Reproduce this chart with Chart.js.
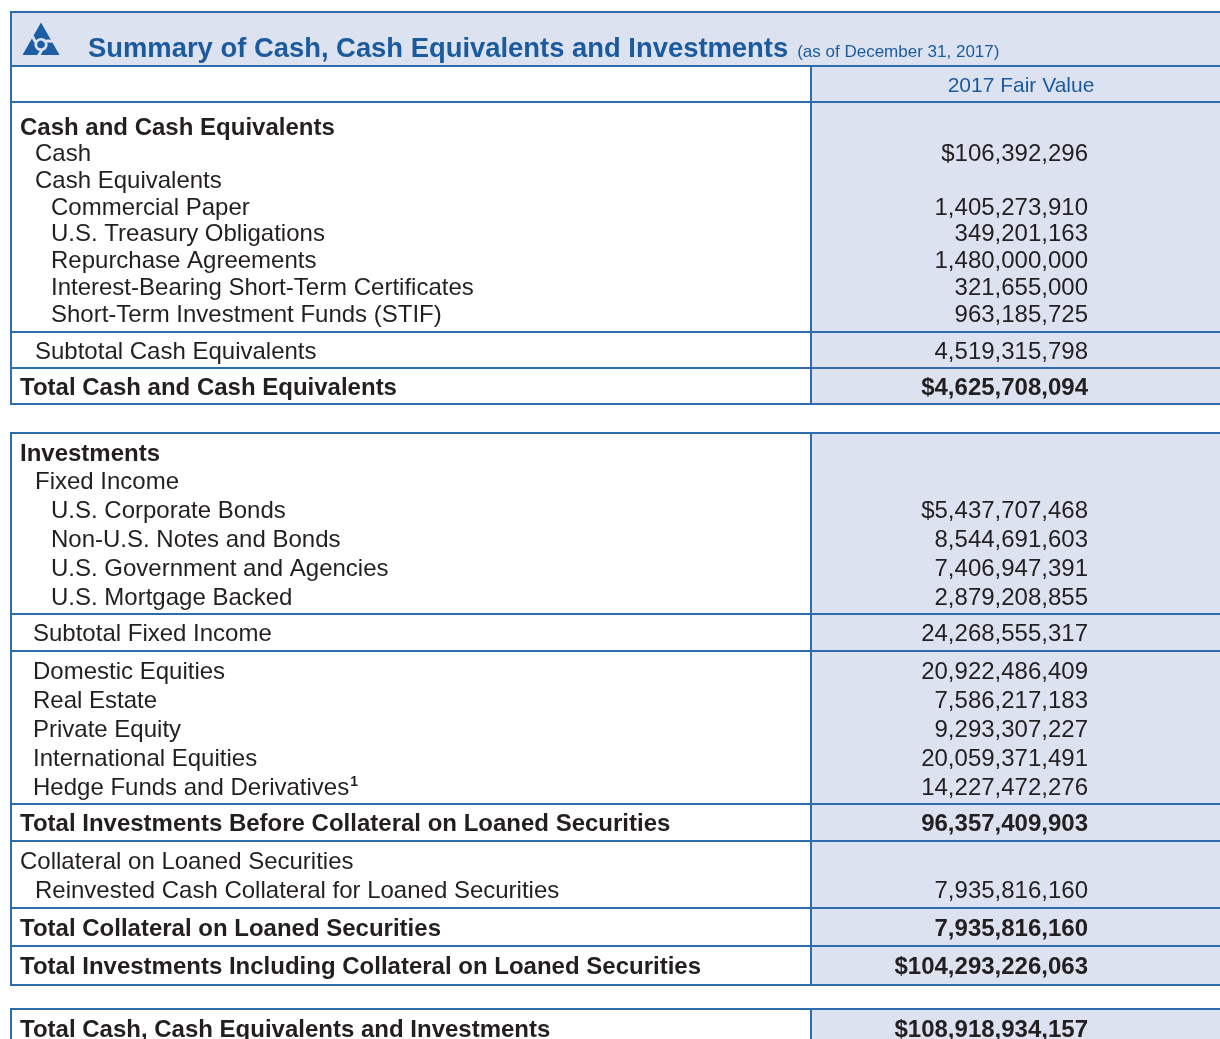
<!DOCTYPE html>
<html>
<head>
<meta charset="utf-8">
<script src="https://cdn.jsdelivr.net/npm/chart.js@4/dist/chart.umd.min.js"></script>
<style>
  html, body { margin: 0; padding: 0; background: #fff; }
  canvas { display: block; }
</style>
</head>
<body>
<canvas id="summary" width="1220" height="1039"></canvas>
<script>
// --- data (fair value in USD) ---
const title = 'Summary of Cash, Cash Equivalents and Investments';
const subtitle = '(as of December 31, 2017)';
const columnLabel = '2017 Fair Value';

const headings = ['Cash and Cash Equivalents', 'Cash Equivalents', 'Investments', 'Fixed Income', 'Collateral on Loaned Securities'];

const cashLabels = ['Cash'];
const cashValues = [106392296];

const cashEqLabels = ['Commercial Paper', 'U.S. Treasury Obligations', 'Repurchase Agreements',
    'Interest-Bearing Short-Term Certificates', 'Short-Term Investment Funds (STIF)'];
const cashEqValues = [1405273910, 349201163, 1480000000, 321655000, 963185725];

const fixedIncomeLabels = ['U.S. Corporate Bonds', 'Non-U.S. Notes and Bonds', 'U.S. Government and Agencies', 'U.S. Mortgage Backed'];
const fixedIncomeValues = [5437707468, 8544691603, 7406947391, 2879208855];

const otherInvLabels = ['Domestic Equities', 'Real Estate', 'Private Equity', 'International Equities', 'Hedge Funds and Derivatives'];
const otherInvValues = [20922486409, 7586217183, 9293307227, 20059371491, 14227472276];
const otherInvNotes = ['', '', '', '', '1'];

const collateralLabels = ['Reinvested Cash Collateral for Loaned Securities'];
const collateralValues = [7935816160];

const totalLabels = ['Subtotal Cash Equivalents', 'Total Cash and Cash Equivalents', 'Subtotal Fixed Income',
    'Total Investments Before Collateral on Loaned Securities', 'Total Collateral on Loaned Securities',
    'Total Investments Including Collateral on Loaned Securities', 'Total Cash, Cash Equivalents and Investments'];
const totalValues = [4519315798, 4625708094, 24268555317, 96357409903, 7935816160, 104293226063, 108918934157];

// --- look ---
const FONT = "'Liberation Sans', Arial, Helvetica, sans-serif";
const LINE = '#2f6cad';
const BLUE = '#1b5b9d';
const FILL = '#dce2f0';
const INK = '#231f20';

const LEFT = 11, DIVIDER = 811, RIGHT = 1220, VALUE_X = 1088;
const INDENT = { 0: 20, 1: 35, 2: 51, s: 33 };
const TEXT_SIZE = 24;
const TEXT_NUDGE = 2;   // canvas 'middle' sits a bit high for this face

// rows grouped in bordered blocks
const boxes = [
    { top: 66, groups: [
        { height: 36, rows: [{ header: columnLabel }] },
        { height: 230, padTop: 24, pitch: 26.7, rows: [
            { label: headings[0], indent: 0, bold: true },
            { label: cashLabels[0], value: cashValues[0], indent: 1, dollar: true },
            { label: headings[1], indent: 1 },
            ...cashEqLabels.map((l, i) => ({ label: l, value: cashEqValues[i], indent: 2 }))
        ] },
        { height: 36, rows: [{ label: totalLabels[0], value: totalValues[0], indent: 1 }] },
        { height: 36, rows: [{ label: totalLabels[1], value: totalValues[1], indent: 0, bold: true, dollar: true }] }
    ] },
    { top: 433, groups: [
        { height: 181, padTop: 19, pitch: 28.8, rows: [
            { label: headings[2], indent: 0, bold: true },
            { label: headings[3], indent: 1 },
            ...fixedIncomeLabels.map((l, i) => ({ label: l, value: fixedIncomeValues[i], indent: 2, dollar: i === 0 }))
        ] },
        { height: 37, rows: [{ label: totalLabels[2], value: totalValues[2], indent: 's' }] },
        { height: 153, padTop: 19, pitch: 29, rows:
            otherInvLabels.map((l, i) => ({ label: l, value: otherInvValues[i], indent: 's', note: otherInvNotes[i] })) },
        { height: 37, rows: [{ label: totalLabels[3], value: totalValues[3], indent: 0, bold: true }] },
        { height: 67, padTop: 19, pitch: 29, rows: [
            { label: headings[4], indent: 0 },
            ...collateralLabels.map((l, i) => ({ label: l, value: collateralValues[i], indent: 1 }))
        ] },
        { height: 38, rows: [{ label: totalLabels[4], value: totalValues[4], indent: 0, bold: true }] },
        { height: 39, rows: [{ label: totalLabels[5], value: totalValues[5], indent: 0, bold: true, dollar: true }] }
    ] },
    { top: 1009, groups: [
        { height: 38, rows: [{ label: totalLabels[6], value: totalValues[6], indent: 0, bold: true, dollar: true }] }
    ] }
];

// work out row centres, keep the valued rows as points for the chart
const valueRows = [];
boxes.forEach(box => {
    let y = box.top;
    box.groups.forEach(g => {
        g.top = y;
        g.rows.forEach((r, i) => {
            r.y = g.rows.length === 1 ? y + g.height / 2 : y + g.padTop + i * g.pitch;
            if (r.value !== undefined) valueRows.push(r);
        });
        y += g.height;
    });
    box.bottom = y;
});

function fmt(r) {
    return (r.dollar ? '$' : '') + r.value.toLocaleString('en-US');
}

function drawLogo(ctx) {
    const cx = 41, cy = 44.5;
    ctx.save();
    ctx.fillStyle = '#1d5da1';
    ctx.beginPath();
    ctx.moveTo(41, 22.5);
    ctx.lineTo(59.5, 55);
    ctx.lineTo(22.5, 55);
    ctx.closePath();
    ctx.fill();
    // white pinwheel: three ring pieces, each trailing out to an edge
    ctx.strokeStyle = FILL;
    ctx.lineWidth = 2.8;
    ctx.lineCap = 'butt';
    const rad = 5.2;
    for (let k = 0; k < 3; k++) {
        const a = Math.PI / 2 + k * 2 * Math.PI / 3;      // towards an edge
        const a0 = a - 2.1, a1 = a - 0.15;
        ctx.beginPath();
        ctx.arc(cx, cy, rad, a0, a1);
        const ex = cx + 12 * Math.cos(a + 0.25), ey = cy + 12 * Math.sin(a + 0.25);
        const qx = cx + (rad + 3) * Math.cos(a + 0.05), qy = cy + (rad + 3) * Math.sin(a + 0.05);
        ctx.quadraticCurveTo(qx, qy, ex, ey);
        ctx.stroke();
    }
    ctx.restore();
}

function hline(ctx, y, x0, x1) {
    ctx.beginPath();
    ctx.moveTo(x0, y);
    ctx.lineTo(x1, y);
    ctx.stroke();
}
function vline(ctx, x, y0, y1) {
    ctx.beginPath();
    ctx.moveTo(x, y0);
    ctx.lineTo(x, y1);
    ctx.stroke();
}

const tablePlugin = {
    id: 'summaryTable',
    beforeDatasetsDraw(chart) {
        const ctx = chart.ctx;
        const xs = chart.scales.x, ys = chart.scales.y;
        const px = v => xs.getPixelForValue(v);
        const py = v => ys.getPixelForValue(v);

        ctx.save();
        // title band
        ctx.fillStyle = FILL;
        ctx.fillRect(px(LEFT), py(12), px(RIGHT) - px(LEFT), py(66) - py(12));
        drawLogo(ctx);
        ctx.fillStyle = BLUE;
        ctx.textBaseline = 'alphabetic';
        ctx.textAlign = 'left';
        ctx.font = `bold 27.4px ${FONT}`;
        ctx.fillText(title, px(88), py(57));
        const tw = ctx.measureText(title).width;
        ctx.font = `17px ${FONT}`;
        ctx.fillText(subtitle, px(88) + tw + 9, py(57));

        ctx.strokeStyle = LINE;
        ctx.lineWidth = 2;
        hline(ctx, py(12), px(LEFT) - 1, px(RIGHT));
        vline(ctx, px(LEFT), py(12), py(66));

        boxes.forEach(box => {
            ctx.fillStyle = FILL;
            ctx.fillRect(px(DIVIDER), py(box.top), px(RIGHT) - px(DIVIDER), py(box.bottom) - py(box.top));
            ctx.strokeStyle = LINE;
            ctx.lineWidth = 2;
            box.groups.forEach(g => hline(ctx, py(g.top), px(LEFT) - 1, px(RIGHT)));
            hline(ctx, py(box.bottom), px(LEFT) - 1, px(RIGHT));
            vline(ctx, px(LEFT), py(box.top), py(box.bottom));
            vline(ctx, px(DIVIDER), py(box.top), py(box.bottom));

            box.groups.forEach(g => g.rows.forEach(r => {
                ctx.textBaseline = 'middle';
                const y = py(r.y) + TEXT_NUDGE;
                if (r.header) {
                    ctx.fillStyle = BLUE;
                    ctx.textAlign = 'center';
                    ctx.font = `21px ${FONT}`;
                    ctx.fillText(r.header, px(1021), y);
                    return;
                }
                ctx.fillStyle = INK;
                ctx.textAlign = 'left';
                ctx.font = `${r.bold ? 'bold ' : ''}${TEXT_SIZE}px ${FONT}`;
                const x = px(INDENT[r.indent]);
                ctx.fillText(r.label, x, y);
                if (r.note) {
                    const w = ctx.measureText(r.label).width;
                    ctx.font = `bold 14px ${FONT}`;
                    ctx.fillText(r.note, x + w + 1, y - 6);
                }
            }));
        });
        ctx.restore();
    },
    afterDatasetsDraw(chart) {
        const ctx = chart.ctx;
        const meta = chart.getDatasetMeta(0);
        ctx.save();
        ctx.fillStyle = INK;
        ctx.textAlign = 'right';
        ctx.textBaseline = 'middle';
        meta.data.forEach((pt, i) => {
            const r = valueRows[i];
            ctx.font = `${r.bold ? 'bold ' : ''}${TEXT_SIZE}px ${FONT}`;
            ctx.fillText(fmt(r), pt.x, pt.y + TEXT_NUDGE);
        });
        ctx.restore();
    }
};

new Chart(document.getElementById('summary'), {
    type: 'scatter',
    data: {
        datasets: [{
            data: valueRows.map(r => ({ x: VALUE_X, y: r.y })),
            pointRadius: 0
        }]
    },
    options: {
        responsive: false,
        animation: false,
        devicePixelRatio: 1,
        events: [],
        layout: { padding: 0 },
        plugins: { legend: { display: false }, tooltip: { enabled: false } },
        scales: {
            x: { type: 'linear', min: 0, max: 1220, display: false },
            y: { type: 'linear', min: 0, max: 1039, reverse: true, display: false }
        }
    },
    plugins: [tablePlugin]
});
</script>
</body>
</html>
